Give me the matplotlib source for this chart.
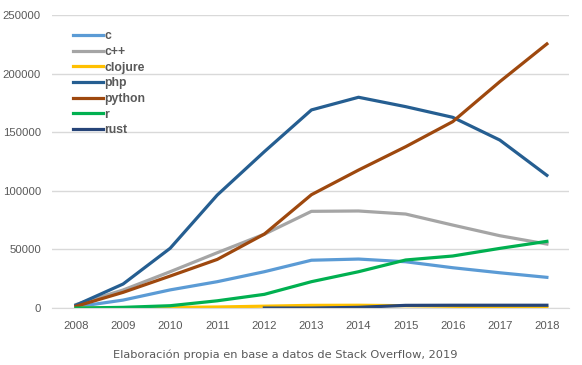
import matplotlib
matplotlib.use("Agg")
import matplotlib.pyplot as plt

years = [2008, 2009, 2010, 2011, 2012, 2013, 2014, 2015, 2016, 2017, 2018]

c = [1000, 6800, 15500, 22500, 31000, 40800, 41800, 39500, 34400, 30100, 26200]
cpp = [3000, 15400, 31000, 47200, 63000, 82500, 82800, 80200, 70800, 61700, 54600]
clojure = [0, 200, 500, 900, 1600, 2300, 2400, 2000, 1500, 1000, 500]
php = [2500, 20500, 51000, 96400, 133400, 169000, 179800, 171800, 162700, 143300, 113200]
python = [1500, 13400, 27300, 41500, 63100, 96700, 117700, 137600, 159000, 193100, 225300]
r = [0, 600, 2000, 6200, 11700, 22500, 31000, 41000, 44400, 50900, 56900]
rust_years = [2012, 2013, 2014, 2015, 2016, 2017, 2018]
rust = [0, 0, 600, 2300, 2400, 2400, 2400]

plt.rcParams['font.family'] = ['Liberation Sans', 'DejaVu Sans']

fig = plt.figure(figsize=(5.82, 3.65), dpi=100)
ax = fig.add_axes([0.0893, 0.156, 0.8884, 0.803])

lw = 2.3
ax.plot(years, c, color='#5B9BD5', lw=lw, label='c')
ax.plot(years, cpp, color='#A5A5A5', lw=lw, label='c++')
ax.plot(years, clojure, color='#FFC000', lw=lw, label='clojure')
ax.plot(years, php, color='#255E91', lw=lw, label='php')
ax.plot(years, python, color='#9E480E', lw=lw, label='python')
ax.plot(years, r, color='#00B050', lw=lw, label='r')
ax.plot(rust_years, rust, color='#264478', lw=lw, label='rust')

ax.set_xlim(2007.49, 2018.47)
ax.set_ylim(0, 250000)
ax.set_xticks(years)
ax.set_yticks(range(0, 250001, 50000))
ax.yaxis.grid(True, color='#D9D9D9', lw=1)
ax.set_axisbelow(True)
for s in ['top', 'right', 'left']:
    ax.spines[s].set_visible(False)
ax.spines['bottom'].set_color('#D9D9D9')
ax.tick_params(length=0, labelsize=8.2, colors='#595959', pad=9)
ax.tick_params(axis='y', pad=8)

leg = ax.legend(loc='upper left', bbox_to_anchor=(0.02, 0.985), frameon=False,
                handlelength=2.4, handletextpad=0.15, labelspacing=0.3,
                prop={'weight': 'bold', 'size': 8.8})
for t in leg.get_texts():
    t.set_color('#595959')

fig.text(0.49, 0.02, 'Elaboración propia en base a datos de Stack Overflow, 2019',
         ha='center', fontsize=8.2, color='#595959', family='DejaVu Sans')

plt.savefig('out.png', dpi=100)
